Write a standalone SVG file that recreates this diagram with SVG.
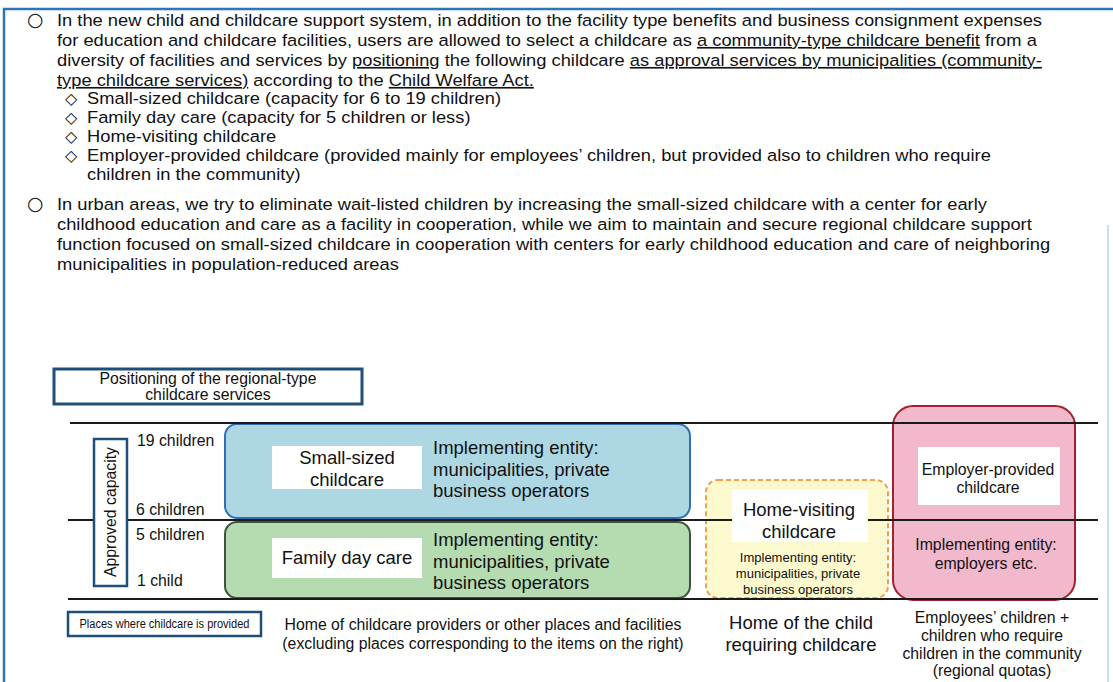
<svg xmlns="http://www.w3.org/2000/svg" width="1113" height="682" viewBox="0 0 1113 682">
<style>
text{font-family:"Liberation Sans",Arial,sans-serif;fill:#111}
.p{font-size:16.5px}
.b{font-family:"DejaVu Sans","Liberation Sans",sans-serif;font-size:19px}
.d{font-family:"DejaVu Sans","Liberation Sans",sans-serif;font-size:16px}
.m{font-size:15.8px}
.l{font-size:18.5px}
.s{font-size:13px}
.c{text-anchor:middle}
.u{text-decoration:underline}
.lab{fill:#fff;stroke:none}
.navy{fill:#fff;stroke:#1f4e79;stroke-width:2.5}
.ln{stroke:#1a1a1a;stroke-width:2;fill:none}
</style>
<rect width="1113" height="682" fill="#fff"/>
<path d="M4,682 V9 H1113" fill="none" stroke="#2e75b6" stroke-width="2.5"/>
<line x1="1108" y1="225" x2="1108" y2="682" stroke="#c9def0" stroke-width="2"/>

<g id="text-para1">
<text class="b" x="27" y="26">○</text>
<text class="d" x="65" y="104">◇</text>
<text class="d" x="65" y="123">◇</text>
<text class="d" x="65" y="142">◇</text>
<text class="d" x="65" y="161">◇</text>
<g transform="scale(1.11,1)">
<text class="p" x="51.35" y="26">In the new child and childcare support system, in addition to the facility type benefits and business consignment expenses</text>
<text class="p" x="51.35" y="46">for education and childcare facilities, users are allowed to select a childcare as <tspan class="u">a community-type childcare benefit</tspan> from a</text>
<text class="p" x="51.35" y="66">diversity of facilities and services by <tspan class="u">positioning</tspan> the following childcare <tspan class="u">as approval services by municipalities (community-</tspan></text>
<text class="p" x="51.35" y="86"><tspan class="u">type childcare services)</tspan> according to the <tspan class="u">Child Welfare Act.</tspan></text>
<text class="p" x="78.38" y="104">Small-sized childcare (capacity for 6 to 19 children)</text>
<text class="p" x="78.38" y="123">Family day care (capacity for 5 children or less)</text>
<text class="p" x="78.38" y="142">Home-visiting childcare</text>
<text class="p" x="78.38" y="161">Employer-provided childcare (provided mainly for employees’ children, but provided also to children who require</text>
<text class="p" x="78.38" y="180">children in the community)</text>
</g>
</g>

<g id="text-para2">
<text class="b" x="27" y="210">○</text>
<g transform="scale(1.11,1)">
<text class="p" x="51.35" y="210">In urban areas, we try to eliminate wait-listed children by increasing the small-sized childcare with a center for early</text>
<text class="p" x="51.35" y="230">childhood education and care as a facility in cooperation, while we aim to maintain and secure regional childcare support</text>
<text class="p" x="51.35" y="250">function focused on small-sized childcare in cooperation with centers for early childhood education and care of neighboring</text>
<text class="p" x="51.35" y="270">municipalities in population-reduced areas</text>
</g>
</g>

<g id="positioning-title">
<rect x="54" y="369" width="308" height="35" fill="#fff" stroke="#1f4e79" stroke-width="3"/>
<text class="m c" x="208" y="384">Positioning of the regional-type</text>
<text class="m c" x="208" y="400">childcare services</text>
</g>

<g id="small-sized">
<rect x="225" y="424" width="465" height="94" rx="12" fill="#add8e3" stroke="#2f6fb5" stroke-width="2"/>
</g>
<g id="family-day-care">
<rect x="225" y="522" width="465" height="76" rx="12" fill="#b5dbb1" stroke="#3f543f" stroke-width="2"/>
</g>
<g id="home-visiting">
<rect x="706" y="480" width="182" height="118" rx="12" fill="#fcf9cf" stroke="#f0a050" stroke-width="2" stroke-dasharray="5,3"/>
</g>
<g id="employer-provided">
<rect x="893" y="406" width="182" height="194" rx="20" fill="#f2b8cc" stroke="#a3202e" stroke-width="2"/>
</g>

<g id="lines">
<line class="ln" x1="70" y1="423" x2="1098" y2="423"/>
<line class="ln" x1="68" y1="520" x2="1098" y2="520"/>
<line class="ln" x1="68" y1="599" x2="1098" y2="599"/>
</g>

<g id="approved-capacity">
<rect class="navy" x="94" y="439" width="33" height="147"/>
<text class="m c" transform="translate(116,512) rotate(-90)">Approved capacity</text>
<text class="m" x="137" y="446">19 children</text>
<text class="m" x="136" y="515">6 children</text>
<text class="m" x="136" y="540">5 children</text>
<text class="m" x="137" y="586">1 child</text>
</g>

<g id="small-sized-labels">
<rect class="lab" x="272" y="446" width="150" height="43"/>
<text class="l c" x="347" y="464">Small-sized</text>
<text class="l c" x="347" y="486">childcare</text>
<text class="l" x="433" y="454">Implementing entity:</text>
<text class="l" x="433" y="476">municipalities, private</text>
<text class="l" x="433" y="497">business operators</text>
</g>

<g id="family-day-care-labels">
<rect class="lab" x="272" y="538" width="150" height="40"/>
<text class="l c" x="347" y="564">Family day care</text>
<text class="l" x="433" y="546">Implementing entity:</text>
<text class="l" x="433" y="568">municipalities, private</text>
<text class="l" x="433" y="589">business operators</text>
</g>

<g id="home-visiting-labels">
<rect class="lab" x="732" y="490" width="136" height="52"/>
<text class="l c" x="799" y="516">Home-visiting</text>
<text class="l c" x="799" y="538">childcare</text>
<text class="s c" x="798" y="562">Implementing entity:</text>
<text class="s c" x="798" y="578">municipalities, private</text>
<text class="s c" x="798" y="594">business operators</text>
</g>

<g id="employer-provided-labels">
<rect class="lab" x="918" y="447" width="142" height="58"/>
<text class="m c" x="988" y="475">Employer-provided</text>
<text class="m c" x="988" y="493">childcare</text>
<text class="m c" x="986" y="550">Implementing entity:</text>
<text class="m c" x="986" y="569">employers etc.</text>
</g>

<g id="places">
<rect class="navy" x="68" y="612" width="193" height="24"/>
<text class="c" x="164.5" y="628" font-size="12.5" textLength="170" lengthAdjust="spacingAndGlyphs">Places where childcare is provided</text>
<text class="m c" x="483" y="630">Home of childcare providers or other places and facilities</text>
<text class="m c" x="483" y="649">(excluding places corresponding to the items on the right)</text>
<text class="l c" x="801" y="629">Home of the child</text>
<text class="l c" x="801" y="651">requiring childcare</text>
<text class="m c" x="992" y="623">Employees’ children +</text>
<text class="m c" x="992" y="641">children who require</text>
<text class="m c" x="992" y="659">children in the community</text>
<text class="m c" x="992" y="676">(regional quotas)</text>
</g>
</svg>
